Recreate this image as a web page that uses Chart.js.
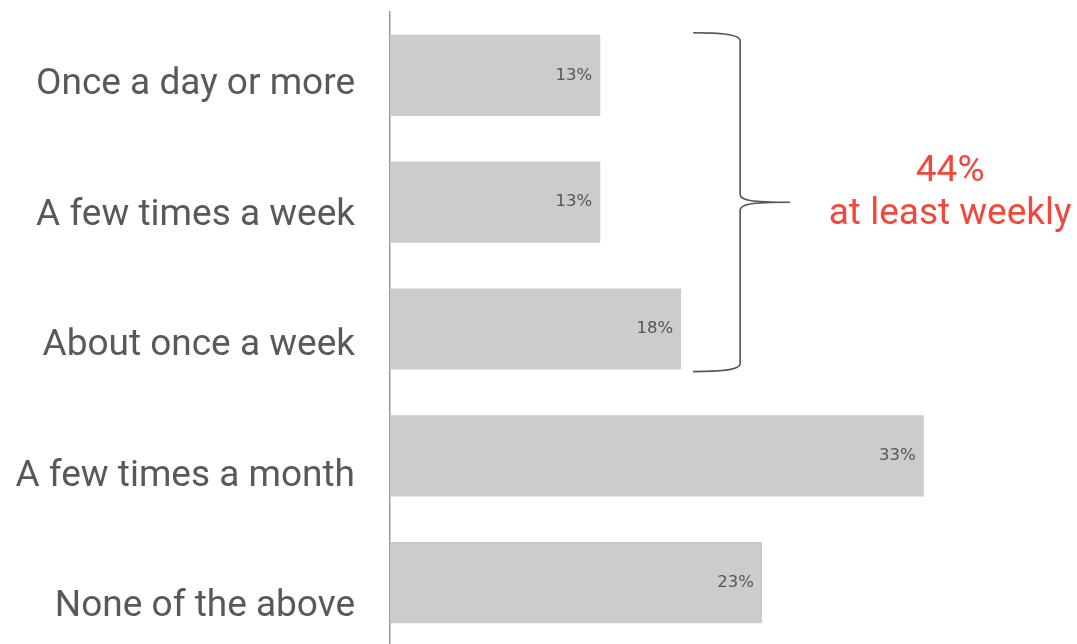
<!DOCTYPE html>
<html>
<head>
<meta charset="utf-8">
<script src="https://cdn.jsdelivr.net/npm/chart.js@4"></script>
<style>
    html, body { margin: 0; padding: 0; background: #fff; overflow: hidden; }
    #wrap { width: 1077px; height: 646px; position: relative; }
</style>
</head>
<body>
<div id="wrap"><canvas id="chart"></canvas></div>
<script>
// Survey: how often respondents do the activity
const categories = [
    'Once a day or more',
    'A few times a week',
    'About once a week',
    'A few times a month',
    'None of the above'
];
const shares = [13, 13, 18, 33, 23];
const braceLines = ['44%', 'at least weekly'];

const GREY_TEXT = '#595959';
const RED = '#f4473b';

// Category labels drawn by hand so they can sit a bit lower than the bars
const categoryLabels = {
    id: 'categoryLabels',
    afterDraw(chart) {
        const ctx = chart.ctx;
        const area = chart.chartArea;
        ctx.save();
        ctx.font = '37px Roboto';
        ctx.fillStyle = GREY_TEXT;
        ctx.textAlign = 'right';
        ctx.textBaseline = 'middle';
        categories.forEach((c, i) => {
            ctx.fillText(c, area.left - 35, area.top + 73 + i * 130.5);
        });
        ctx.restore();
    }
};

// Value text inside the end of every bar
const valueLabels = {
    id: 'valueLabels',
    afterDatasetsDraw(chart) {
        const ctx = chart.ctx;
        const meta = chart.getDatasetMeta(0);
        ctx.save();
        ctx.font = '16.5px "DejaVu Sans"';
        ctx.fillStyle = '#555';
        ctx.textAlign = 'right';
        ctx.textBaseline = 'middle';
        meta.data.forEach((bar, i) => {
            ctx.fillText(shares[i] + '%', bar.x - 8, bar.y);
        });
        ctx.restore();
    }
};

// Curly brace grouping the first three bars, plus its red caption
const weeklyBrace = {
    id: 'weeklyBrace',
    afterDraw(chart) {
        const ctx = chart.ctx;
        const meta = chart.getDatasetMeta(0);
        const first = meta.data[0], last = meta.data[2];
        const top = first.y - first.height / 2 - 2;
        const bottom = last.y + last.height / 2 + 2;
        const mid = (top + bottom) / 2;
        const x0 = chart.scales.x.getPixelForValue(shares[2]) + 12;
        const x1 = x0 + 47;
        const tip = x1 + 50;
        const r = 8;

        ctx.save();
        ctx.strokeStyle = '#555';
        ctx.lineWidth = 1.6;
        ctx.beginPath();
        ctx.moveTo(x0, top);
        ctx.bezierCurveTo(x0 + 25, top, x1, top + 1, x1, top + r);
        ctx.lineTo(x1, mid - r);
        ctx.bezierCurveTo(x1, mid - 2, x1 + 10, mid, tip, mid);
        ctx.moveTo(tip, mid);
        ctx.bezierCurveTo(x1 + 10, mid, x1, mid + 2, x1, mid + r);
        ctx.lineTo(x1, bottom - r);
        ctx.bezierCurveTo(x1, bottom - 1, x0 + 25, bottom, x0, bottom);
        ctx.stroke();

        ctx.font = '37px Roboto';
        ctx.fillStyle = RED;
        ctx.textAlign = 'center';
        ctx.textBaseline = 'middle';
        ctx.fillText(braceLines[0], tip + 160, mid - 30);
        ctx.fillText(braceLines[1], tip + 160, mid + 13);
        ctx.restore();
    }
};

const canvas = document.getElementById('chart');
new Chart(canvas.getContext('2d'), {
    type: 'bar',
    data: {
        labels: categories,
        datasets: [{
            data: shares,
            backgroundColor: '#cccccc',
            borderWidth: 0,
            barPercentage: 0.8,
            categoryPercentage: 0.8
        }]
    },
    options: {
        indexAxis: 'y',
        responsive: true,
        maintainAspectRatio: false,
        animation: false,
        events: [],
        layout: { padding: { left: 390, right: 40, top: 12, bottom: 0 } },
        plugins: {
            legend: { display: false },
            tooltip: { enabled: false }
        },
        scales: {
            x: {
                min: 0,
                max: 40,
                display: false
            },
            y: {
                grid: { display: false, drawTicks: false },
                border: { display: true, color: '#9a9a9a', width: 1.5 },
                ticks: { display: false }
            }
        }
    },
    plugins: [categoryLabels, valueLabels, weeklyBrace]
});
</script>
</body>
</html>
